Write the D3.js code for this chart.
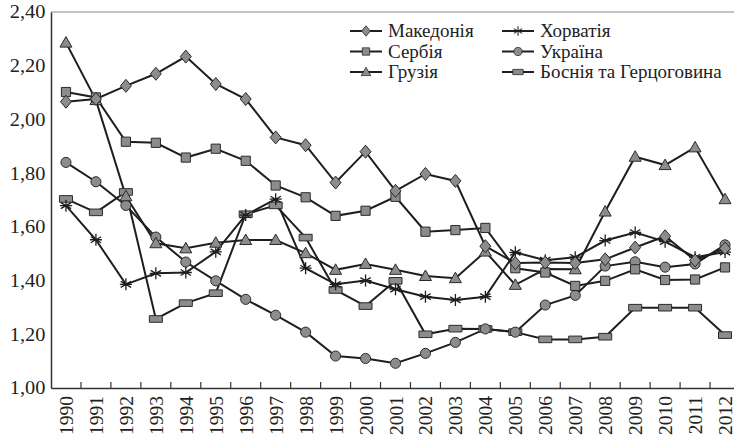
<!DOCTYPE html>
<html><head><meta charset="utf-8">
<script src="https://cdn.jsdelivr.net/npm/d3@7"></script>
<style>
html,body{margin:0;padding:0;background:#fff;}
svg text{font-family:"Liberation Serif","DejaVu Serif",serif;fill:#222;}
</style></head>
<body><svg id="c" width="734" height="438"></svg>
<script>
const years = ["1990","1991","1992","1993","1994","1995","1996","1997","1998","1999","2000","2001","2002","2003","2004","2005","2006","2007","2008","2009","2010","2011","2012"];
const yTicks = [1.0,1.2,1.4,1.6,1.8,2.0,2.2,2.4];
const macedonia = [2.066,2.076,2.125,2.170,2.234,2.132,2.076,1.933,1.904,1.765,1.880,1.734,1.797,1.771,1.528,1.465,1.467,1.465,1.479,1.523,1.565,1.475,1.520];
const serbia    = [2.102,2.082,1.917,1.913,1.858,1.891,1.846,1.754,1.710,1.641,1.660,1.712,1.582,1.588,1.596,1.446,1.430,1.380,1.399,1.442,1.402,1.404,1.449];
const georgia   = [2.286,2.072,1.714,1.539,1.520,1.541,1.551,1.551,1.502,1.440,1.462,1.440,1.417,1.409,1.508,1.384,1.443,1.442,1.657,1.861,1.830,1.896,1.703];
const croatia   = [1.679,1.552,1.386,1.427,1.430,1.507,1.644,1.703,1.446,1.386,1.400,1.368,1.340,1.328,1.340,1.505,1.476,1.487,1.549,1.579,1.545,1.487,1.506];
const ukraine   = [1.840,1.768,1.680,1.562,1.469,1.399,1.330,1.271,1.208,1.119,1.110,1.092,1.129,1.170,1.220,1.208,1.309,1.345,1.454,1.470,1.450,1.462,1.533];
const bosnia    = [1.704,1.654,1.730,1.257,1.316,1.353,1.647,1.680,1.560,1.365,1.305,1.399,1.200,1.221,1.220,1.208,1.181,1.181,1.191,1.299,1.299,1.299,1.197];
const seriesNames = ["Македонія","Сербія","Грузія","Хорватія","Україна","Боснія та Герцоговина"];
const seriesData = [macedonia, serbia, georgia, croatia, ukraine, bosnia];
const seriesMarkers = ["diamond","square","triangle","asterisk","circle","rect"];

const svg = d3.select("#c");
const x = d3.scaleBand().domain(years).range([51, 740]);
const y = d3.scaleLinear().domain([1.0, 2.4]).range([388, 12]);
const cx = d => x(d) + x.bandwidth()/2;

// top border
svg.append("line").attr("x1",51).attr("x2",734).attr("y1",12).attr("y2",12).attr("stroke","#8a8a8a").attr("stroke-width",1.2);

// y axis
const yAxis = svg.append("g").attr("transform","translate(51,0)")
  .call(d3.axisLeft(y).tickValues(yTicks).tickSize(0).tickPadding(9).tickFormat(d => d3.format(".2f")(d).replace(".", ",")));
yAxis.select(".domain").attr("stroke","#333").attr("stroke-width",1.5);
yAxis.selectAll(".tick text").attr("font-size",18.5).attr("fill","#222")
  .attr("transform","translate(-42,0) scale(1.1,1) translate(42,0)");

// x axis
const xAxis = svg.append("g").attr("transform","translate(0,388)")
  .call(d3.axisBottom(x).tickSize(0).tickSizeOuter(0));
xAxis.select(".domain").attr("stroke","#333").attr("stroke-width",1.5);
xAxis.selectAll(".tick text").remove();
xAxis.selectAll(".tick line").remove();
// separator ticks between categories (pointing inward)
svg.append("g").selectAll("line").data(years.slice(1)).join("line")
  .attr("x1", d => x(d)).attr("x2", d => x(d)).attr("y1", 388).attr("y2", 382)
  .attr("stroke","#333").attr("stroke-width",1.2);
// rotated year labels
svg.append("g").selectAll("text").data(years).join("text")
  .attr("transform", d => `translate(${cx(d)},396) rotate(-90)`)
  .attr("text-anchor","end").attr("dy","0.36em")
  .attr("font-size",19.5).text(d => d);

// markers
function markerPath(type){
  switch(type){
    case "diamond": return "M0,-6.5L5.5,0L0,6.5L-5.5,0Z";
    case "square": return "M-4.6,-4.6H4.6V4.6H-4.6Z";
    case "triangle": return "M0,-6L6,4.5H-6Z";
    case "circle": return d3.symbol(d3.symbolCircle, 80)();
    case "rect": return "M-6.5,-3.3H6.5V3.3H-6.5Z";
    case "asterisk": return "M0,-6V6M-5.2,-3L5.2,3M-5.2,3L5.2,-3M-6,0H6";
  }
}
const line = d3.line().x((d,i) => cx(years[i])).y(d => y(d));
const order = [5,4,3,2,1,0];
order.forEach(si => {
  svg.append("path").datum(seriesData[si]).attr("d", line)
    .attr("fill","none").attr("stroke","#1e1e1e").attr("stroke-width",2);
});
order.forEach(si => {
  const m = seriesMarkers[si];
  svg.append("g").selectAll("path").data(seriesData[si]).join("path")
    .attr("transform",(d,i)=>`translate(${cx(years[i])},${y(d)})`)
    .attr("d", markerPath(m))
    .attr("fill", m==="asterisk" ? "none" : "#8c8c8c")
    .attr("stroke", m==="asterisk" ? "#1e1e1e" : "#2a2a2a")
    .attr("stroke-width", m==="asterisk" ? 1.3 : 1);
});

// legend
const legendPos = [[350,0],[350,1],[350,2],[502,0],[502,1],[502,2]];
seriesNames.forEach((name, si) => {
  const [lx, row] = legendPos[si];
  const ly = 31 + row*20.5;
  const g = svg.append("g");
  g.append("line").attr("x1",lx).attr("x2",lx+32).attr("y1",ly).attr("y2",ly).attr("stroke","#1e1e1e").attr("stroke-width",2);
  const m = seriesMarkers[si];
  g.append("path").attr("transform",`translate(${lx+16},${ly}) scale(0.8)`).attr("d", markerPath(m))
    .attr("fill", m==="asterisk" ? "none" : "#8c8c8c")
    .attr("stroke", m==="asterisk" ? "#1e1e1e" : "#2a2a2a")
    .attr("stroke-width", m==="asterisk" ? 1.3 : 1);
  g.append("text").attr("x", lx+38).attr("y", ly+6).attr("font-size",19).text(name);
});
</script></body></html>
